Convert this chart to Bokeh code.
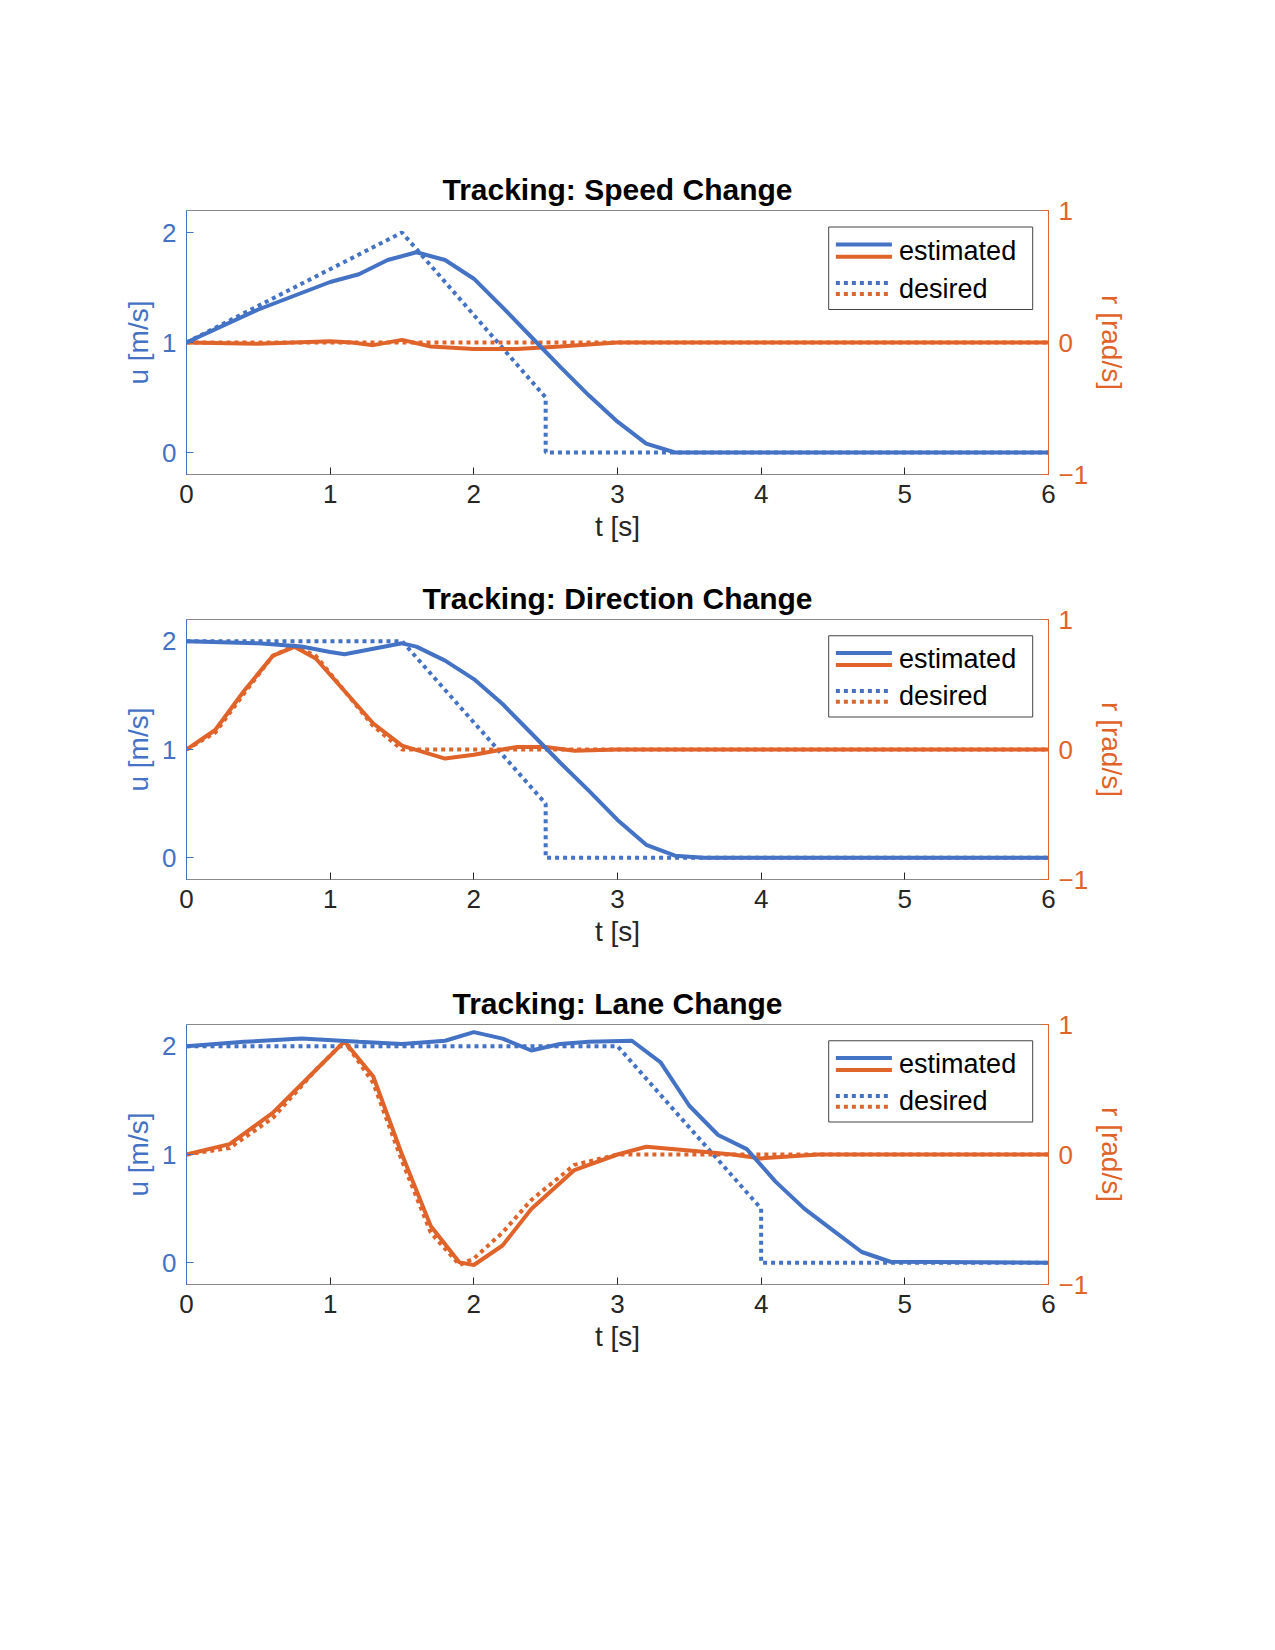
from bokeh.plotting import figure
from bokeh.models import Range1d, LinearAxis, FixedTicker
from bokeh.layouts import column
from bokeh.embed import file_html
from bokeh.resources import INLINE

BLUE = "#4472C4"
ORANGE = "#E0632A"
FONT = "Liberation Sans"

# Speed change
sp_ud_t = [0, 1.5, 2.5, 2.5, 6]
sp_ud = [1, 2, 0.5, 0, 0]
sp_ue_t = [0, 0.5, 1.0, 1.2, 1.4, 1.6, 1.8, 2.0, 2.2, 2.4, 2.6, 2.8, 3.0, 3.2, 3.4, 6]
sp_ue = [1, 1.3, 1.55, 1.62, 1.75, 1.82, 1.75, 1.58, 1.32, 1.05, 0.78, 0.52, 0.28, 0.08, 0.0, 0]
sp_re_t = [0, 0.5, 1.0, 1.15, 1.3, 1.5, 1.7, 2.0, 2.3, 2.6, 3.0, 6]
sp_re = [0, -0.01, 0.01, 0.0, -0.02, 0.02, -0.03, -0.05, -0.05, -0.03, 0, 0]
sp_rd_t = [0, 6]
sp_rd = [0, 0]

# Direction change
dc_ud_t = [0, 1.5, 2.5, 2.5, 6]
dc_ud = [2, 2, 0.5, 0, 0]
dc_ue_t = [0, 0.5, 0.8, 1.0, 1.1, 1.3, 1.5, 1.6, 1.8, 2.0, 2.2, 2.4, 2.6, 2.8, 3.0, 3.2, 3.4, 3.6, 6]
dc_ue = [2.0, 1.98, 1.95, 1.9, 1.88, 1.93, 1.98, 1.95, 1.82, 1.65, 1.42, 1.15, 0.88, 0.62, 0.35, 0.12, 0.02, 0, 0]
dc_re_t = [0, 0.2, 0.4, 0.6, 0.75, 0.9, 1.1, 1.3, 1.5, 1.8, 2.0, 2.3, 2.5, 2.7, 3.0, 6]
dc_re = [0, 0.15, 0.45, 0.72, 0.79, 0.7, 0.45, 0.2, 0.03, -0.07, -0.04, 0.02, 0.02, -0.01, 0, 0]
dc_rd_t = [0, 0.2, 0.4, 0.6, 0.75, 0.9, 1.1, 1.3, 1.5, 6]
dc_rd = [0, 0.13, 0.43, 0.72, 0.8, 0.72, 0.45, 0.18, 0, 0]

# Lane change
lc_ud_t = [0, 3, 4, 4, 6]
lc_ud = [2, 2, 0.5, 0, 0]
lc_ue_t = [0, 0.4, 0.8, 1.2, 1.5, 1.8, 2.0, 2.2, 2.4, 2.6, 2.8, 3.1, 3.3, 3.5, 3.7, 3.9, 4.1, 4.3, 4.5, 4.7, 4.9, 6]
lc_ue = [2.0, 2.04, 2.07, 2.04, 2.02, 2.05, 2.13, 2.07, 1.96, 2.02, 2.04, 2.05, 1.85, 1.45, 1.18, 1.05, 0.75, 0.5, 0.3, 0.1, 0.01, 0]
lc_re_t = [0, 0.3, 0.6, 0.9, 1.1, 1.3, 1.5, 1.7, 1.9, 2.0, 2.2, 2.4, 2.7, 3.0, 3.2, 3.5, 3.8, 4.0, 4.4, 6]
lc_re = [0, 0.08, 0.32, 0.65, 0.87, 0.6, 0.0, -0.55, -0.83, -0.85, -0.7, -0.42, -0.12, 0.0, 0.06, 0.03, 0.0, -0.03, 0, 0]
lc_rd_t = [0, 0.3, 0.6, 0.9, 1.1, 1.3, 1.5, 1.7, 1.9, 2.0, 2.2, 2.4, 2.7, 3.0, 6]
lc_rd = [0, 0.05, 0.28, 0.65, 0.87, 0.55, -0.05, -0.6, -0.85, -0.8, -0.6, -0.35, -0.08, 0, 0]

titles = ["Tracking: Speed Change", "Tracking: Direction Change", "Tracking: Lane Change"]
panels = [
    (sp_ue_t, sp_ue, sp_ud_t, sp_ud, sp_re_t, sp_re, sp_rd_t, sp_rd),
    (dc_ue_t, dc_ue, dc_ud_t, dc_ud, dc_re_t, dc_re, dc_rd_t, dc_rd),
    (lc_ue_t, lc_ue, lc_ud_t, lc_ud, lc_re_t, lc_re, lc_rd_t, lc_rd),
]


def style_axis(ax, color, size="26px"):
    ax.axis_line_color = color
    ax.major_tick_line_color = color
    ax.major_label_text_color = color
    ax.axis_label_text_color = color
    ax.major_label_text_font = FONT
    ax.axis_label_text_font = FONT
    ax.major_label_text_font_size = size
    ax.axis_label_text_font_size = "28px"
    ax.axis_label_text_font_style = "normal"
    ax.major_tick_in = 7
    ax.major_tick_out = 0
    ax.major_label_standoff = 10
    ax.minor_tick_line_color = None


def make_panel(i, title, data):
    ue_t, ue, ud_t, ud, re_t, re, rd_t, rd = data
    top = 210 if i == 0 else 41
    bottom = 100
    p = figure(width=1160, height=top + 264 + bottom, output_backend="svg",
               toolbar_location=None, x_range=Range1d(0, 6), y_range=Range1d(-0.2, 2.2),
               min_border_left=186, min_border_right=112, min_border_top=top,
               min_border_bottom=bottom, title=title)
    p.title.align = "center"
    p.title.text_font = FONT
    p.title.text_font_size = "30px"
    p.title.text_font_style = "bold"
    p.title.text_color = "black"
    p.grid.visible = False
    p.outline_line_color = "#888888"
    p.extra_y_ranges = {"r": Range1d(-1, 1)}

    p.xaxis.axis_label = "t [s]"
    p.xaxis.ticker = FixedTicker(ticks=[0, 1, 2, 3, 4, 5, 6])
    style_axis(p.xaxis[0], "#262626")
    p.xaxis.axis_line_color = "#888888"
    p.yaxis.axis_label = "u [m/s]"
    p.yaxis.ticker = FixedTicker(ticks=[0, 1, 2])
    style_axis(p.yaxis[0], BLUE)
    rax = LinearAxis(y_range_name="r", axis_label="r [rad/s]", ticker=FixedTicker(ticks=[-1, 0, 1]))
    style_axis(rax, ORANGE)
    rax.axis_label_orientation = "vertical"
    p.add_layout(rax, "right")

    p.line(ud_t, ud, color=BLUE, line_width=4, line_dash="4 4")
    p.line(rd_t, rd, color=ORANGE, line_width=4, line_dash="4 4", y_range_name="r")
    p.line(re_t, re, color=ORANGE, line_width=4, y_range_name="r")
    p.line(ue_t, ue, color=BLUE, line_width=4)

    # legend box drawn in data units (ranges are fixed)
    p.quad(left=[4.47], right=[5.89], bottom=[1.30], top=[2.05],
           fill_color="white", line_color="#444444", line_width=1)
    p.line([4.52, 4.91], [1.89, 1.89], color=BLUE, line_width=4)
    p.line([4.52, 4.91], [1.78, 1.78], color=ORANGE, line_width=4)
    p.line([4.52, 4.91], [1.54, 1.54], color=BLUE, line_width=4, line_dash="4 4")
    p.line([4.52, 4.91], [1.44, 1.44], color=ORANGE, line_width=4, line_dash="4 4")
    p.text([4.96, 4.96], [1.835, 1.49], text=["estimated", "desired"], text_font_size="27px",
           text_baseline="middle", text_color="black", text_font={"value": FONT})
    return p


figs = [make_panel(i, titles[i], panels[i]) for i in range(3)]
layout = column(*figs, spacing=0)
open("out.html", "w").write(file_html(layout, INLINE))
